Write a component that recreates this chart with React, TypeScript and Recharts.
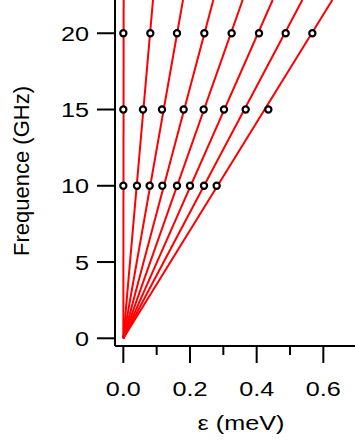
import React from 'react';
import { ComposedChart, XAxis, YAxis, Scatter, Label } from 'recharts';

// Measured points (epsilon in meV) at each frequency (GHz)
const freqs = [10, 15, 20];
const eps10 = [0.0, 0.041, 0.079, 0.117, 0.161, 0.2, 0.242, 0.28];
const eps15 = [0.0, 0.059, 0.116, 0.181, 0.241, 0.302, 0.367, 0.435];
const eps20 = [0.0, 0.081, 0.161, 0.243, 0.325, 0.407, 0.487, 0.567];
// Fitted lines: start at origin, reach the top of the frame at these epsilons
const lineTopFreq = 22.18;
const lineTopEps = [0.001, 0.089, 0.179, 0.27, 0.358, 0.448, 0.537, 0.627];

const xTicks = [0, 0.1, 0.2, 0.3, 0.4, 0.5, 0.6];
const xLabelled = [0, 0.2, 0.4, 0.6];
const yTicks = [0, 5, 10, 15, 20];

const FONT = '"Liberation Sans", Arial, Helvetica, sans-serif';
const SX = 1.2;

const pointData = [
  ...eps10.map((e) => ({ x: e, y: freqs[0] })),
  ...eps15.map((e) => ({ x: e, y: freqs[1] })),
  ...eps20.map((e) => ({ x: e, y: freqs[2] })),
];

const lineData = lineTopEps.map((e) => [
  { x: 0, y: 0 },
  { x: e, y: lineTopFreq },
]);

const XTick = (props: any) => {
  const { x, y, payload } = props;
  const v = payload.value;
  const major = xLabelled.some((t) => Math.abs(t - v) < 1e-9);
  return (
    <g>
      <line x1={x} x2={x} y1={y} y2={y + (major ? 17 : 9)} stroke="#000" strokeWidth={2} />
      {major && (
        <text
          transform={`translate(${x},${y + 50}) scale(${SX},1)`}
          textAnchor="middle"
          fontFamily={FONT}
          fontSize={21}
          fill="#000"
        >
          {v.toFixed(1)}
        </text>
      )}
    </g>
  );
};

const YTick = (props: any) => {
  const { x, y, payload } = props;
  return (
    <g>
      <line x1={x - 18} x2={x} y1={y} y2={y} stroke="#000" strokeWidth={2} />
      <text
        transform={`translate(${x - 26},${y}) scale(${SX},1)`}
        textAnchor="end"
        dy="0.36em"
        fontFamily={FONT}
        fontSize={21}
        fill="#000"
      >
        {String(payload.value)}
      </text>
    </g>
  );
};

const Dot = (props: any) => {
  const { cx, cy } = props;
  return <circle cx={cx} cy={cy} r={3.1} fill="#fff" stroke="#000" strokeWidth={2.2} />;
};

export default function App() {
  return (
    <div style={{ position: 'absolute', left: 0, top: 0, background: '#fff' }}>
      <ComposedChart width={355} height={443} margin={{ top: 0, right: 0, bottom: 0, left: 0 }}>
        <XAxis
          type="number"
          dataKey="x"
          domain={[-0.025, 0.695]}
          ticks={xTicks}
          interval={0}
          allowDataOverflow
          height={97}
          tickSize={0}
          tickMargin={0}
          tickLine={false}
          tick={<XTick />}
          axisLine={{ stroke: '#000', strokeWidth: 2 }}
        >
          <Label
            content={() => (
              <text
                transform={`translate(241,430) scale(${SX},1)`}
                textAnchor="middle"
                fontFamily={FONT}
                fontSize={21}
                fill="#000"
              >
                ε (meV)
              </text>
            )}
          />
        </XAxis>
        <YAxis
          type="number"
          dataKey="y"
          domain={[-0.505, 22.18]}
          ticks={yTicks}
          interval={0}
          allowDataOverflow
          width={115}
          tickSize={0}
          tickMargin={0}
          tickLine={false}
          tick={<YTick />}
          axisLine={{ stroke: '#000', strokeWidth: 2 }}
        >
          <Label
            content={() => (
              <text
                transform="translate(28.5,171) rotate(-90)"
                textAnchor="middle"
                fontFamily={FONT}
                fontSize={22}
                fill="#000"
              >
                Frequence (GHz)
              </text>
            )}
          />
        </YAxis>
        {lineData.map((d, i) => (
          <Scatter
            key={`l${i}`}
            data={d}
            line={{ stroke: '#ff0000', strokeWidth: 2 }}
            shape={() => <g />}
            isAnimationActive={false}
          />
        ))}
        <Scatter data={pointData} shape={<Dot />} isAnimationActive={false} />
      </ComposedChart>
    </div>
  );
}
